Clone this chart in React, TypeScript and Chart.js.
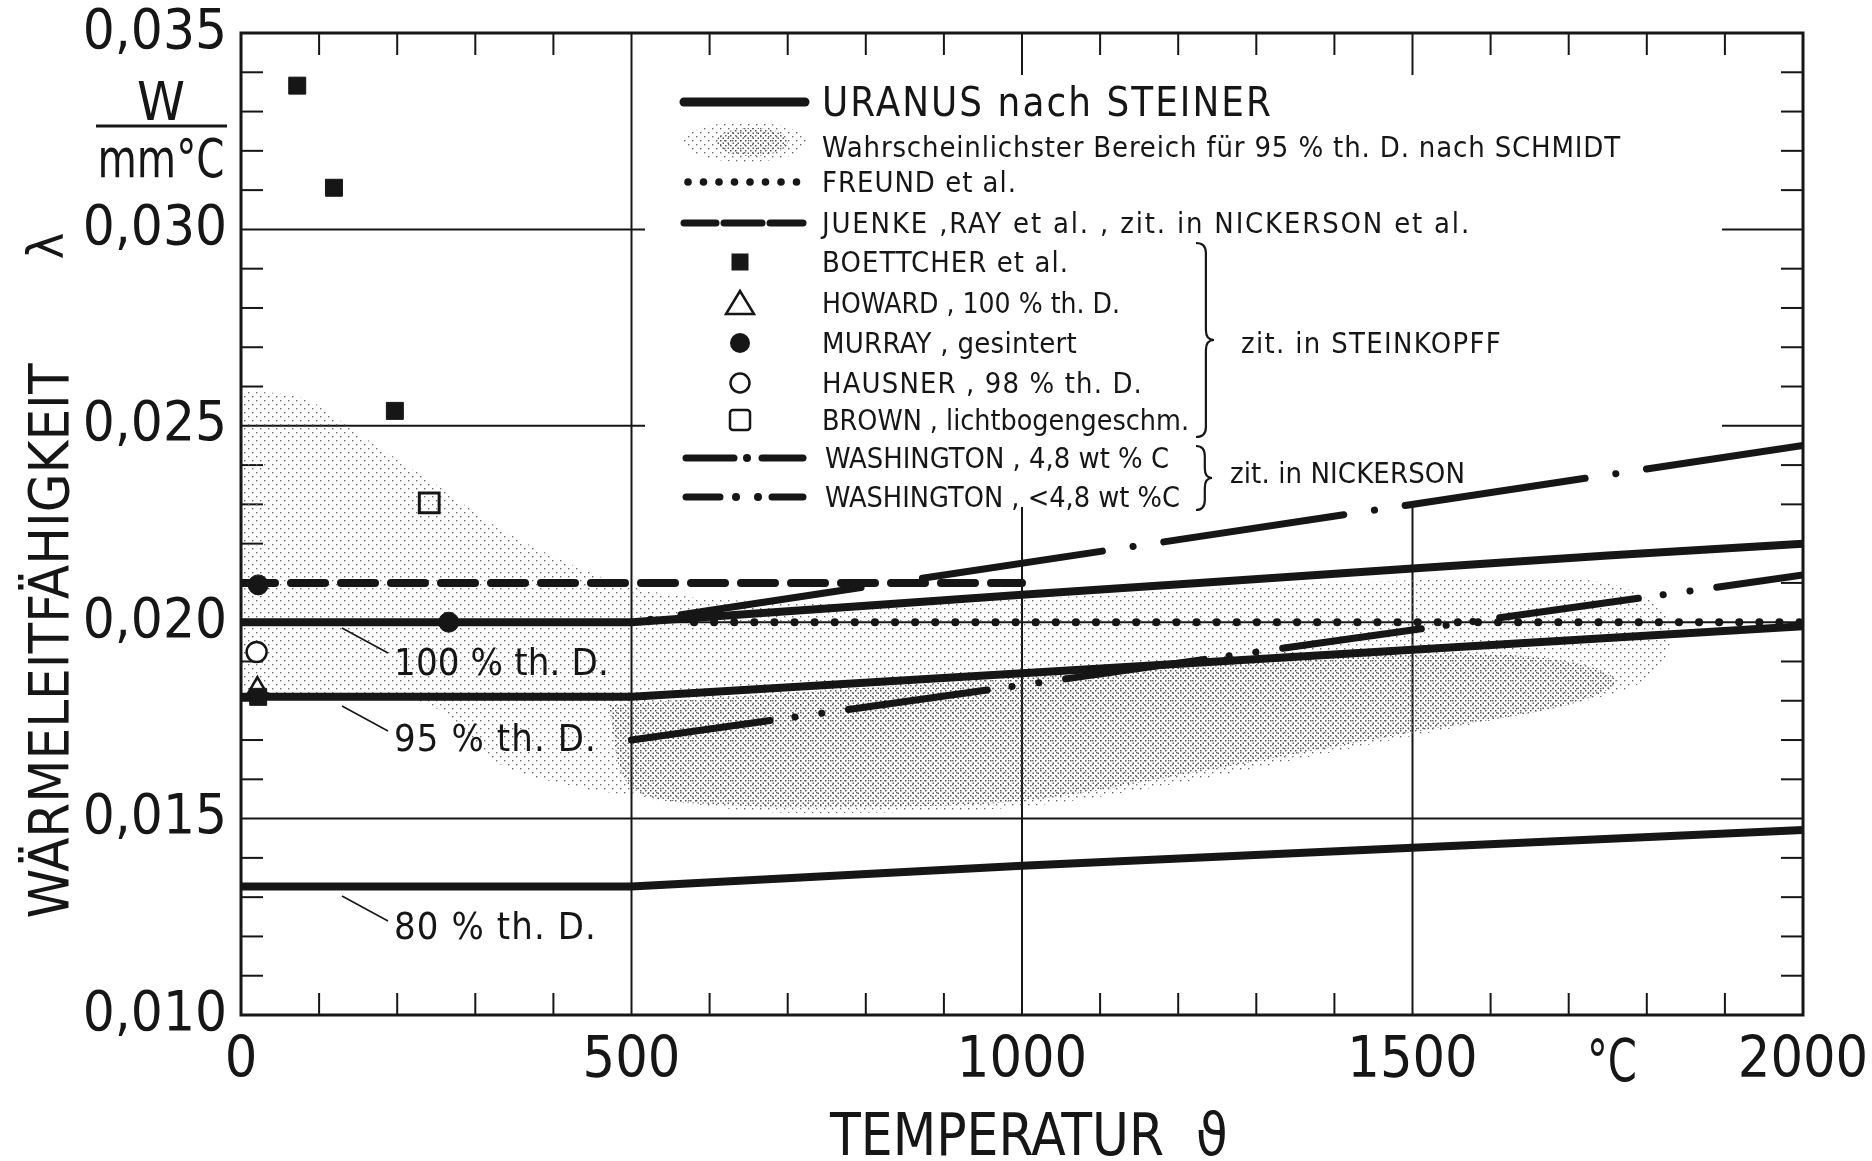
import React, { useEffect, useRef } from "react";
import { Chart, registerables } from "chart.js";

Chart.register(...registerables);

// ---------------- data ----------------
const xTickValues = [0, 500, 1000, 1500, 2000];
const yTickValues = [0.01, 0.015, 0.02, 0.025, 0.03, 0.035];

const uranus100T = [0, 500, 750, 1000, 1250, 1500, 1750, 2000];
const uranus100L = [0.02, 0.02, 0.02035, 0.0207, 0.02103, 0.02137, 0.0217, 0.022];
const uranus95T = [0, 500, 1000, 1500, 2000];
const uranus95L = [0.0181, 0.0181, 0.0187, 0.0193, 0.0199];
const uranus80T = [0, 500, 1000, 1500, 2000];
const uranus80L = [0.01327, 0.01327, 0.0138, 0.01426, 0.01471];

const freundT = [580, 2000];
const freundL = [0.02, 0.02];
const juenkeT = [0, 1000];
const juenkeL = [0.021, 0.021];
const wash48T = [500, 2000];
const wash48L = [0.02, 0.0245];
const washLt48T = [500, 2000];
const washLt48L = [0.017, 0.0212];

// outline of the SCHMIDT band (upper edge left->right, then lower edge right->left)
const schmidtT = [0, 80, 150, 250, 330, 420, 500, 600, 800, 1000, 1200, 1400, 1600, 1750, 1820, 1830, 1810, 1760,
  1650, 1500, 1400, 1200, 1000, 800, 650, 500, 430, 330, 250, 150, 0, 0];
const schmidtL = [0.0259, 0.0257, 0.0248, 0.0235, 0.0224, 0.0215, 0.0209, 0.0206, 0.0205, 0.0206, 0.0208, 0.021, 0.0211, 0.021, 0.0203, 0.0195, 0.0187, 0.0182,
  0.0177, 0.0171, 0.0167, 0.0159, 0.0153, 0.01515, 0.0152, 0.0156, 0.0158, 0.0164, 0.0178, 0.0182, 0.0184, 0.0259];
// denser core of the SCHMIDT band
const schmidtCoreT = [470, 700, 1000, 1300, 1550, 1700, 1760, 1700, 1500, 1200, 1000, 800, 620, 500, 470];
const schmidtCoreL = [0.0179, 0.0182, 0.0186, 0.019, 0.0192, 0.019, 0.0185, 0.0179, 0.0172, 0.0161, 0.01545, 0.0153, 0.01535, 0.0158, 0.0179];

const boettcherT = [72, 119, 197, 22];
const boettcherL = [0.03366, 0.03106, 0.02538, 0.0181];
const howardT = [21];
const howardL = [0.01835];
const murrayT = [22, 266];
const murrayL = [0.02095, 0.02];
const hausnerT = [20];
const hausnerL = [0.01924];
const brownT = [241];
const brownL = [0.02304];

const legendLabels = [
  "URANUS nach STEINER",
  "Wahrscheinlichster Bereich für 95 % th. D. nach SCHMIDT",
  "FREUND et al.",
  "JUENKE ,RAY et al. , zit. in NICKERSON et al.",
  "BOETTCHER et al.",
  "HOWARD , 100 % th. D.",
  "MURRAY , gesintert",
  "HAUSNER , 98 % th. D.",
  "BROWN , lichtbogengeschm.",
  "WASHINGTON , 4,8 wt % C",
  "WASHINGTON , <4,8 wt %C",
];
const densityLabels = ["100 % th. D.", "95 % th. D.", "80 % th. D."];

// ---------------- helpers ----------------
const INK = "#161616";
const FONT = '"Liberation Sans Narrow", "DejaVu Sans Condensed", "Liberation Sans", "DejaVu Sans", sans-serif';

const pts = (xs: number[], ys: number[]) => xs.map((x, i) => ({ x, y: ys[i] }));

function drawFit(ctx: CanvasRenderingContext2D, text: string, x: number, cy: number, size: number, width: number, align: "left" | "center" = "left") {
  ctx.save();
  ctx.font = `${size}px ${FONT}`;
  (ctx as any).letterSpacing = "0px";
  const w0 = ctx.measureText(text).width;
  let ls = 0;
  if (width > w0 && text.length > 1) ls = (width - w0) / (text.length - 1);
  (ctx as any).letterSpacing = `${ls}px`;
  let w1 = ctx.measureText(text).width;
  if ((ctx as any).letterSpacing === `${ls}px` && ls > 0) w1 -= ls;
  const sx = width / (w1 || 1);
  const left = align === "center" ? x - width / 2 : x;
  ctx.translate(left, cy + size * 0.36);
  ctx.scale(sx, 1);
  ctx.textAlign = "left";
  ctx.textBaseline = "alphabetic";
  ctx.fillStyle = INK;
  ctx.fillText(text, 0, 0);
  ctx.restore();
}

function seg(ctx: CanvasRenderingContext2D, x1: number, y1: number, x2: number, y2: number) {
  ctx.beginPath();
  ctx.moveTo(x1, y1);
  ctx.lineTo(x2, y2);
  ctx.stroke();
}

function brace(ctx: CanvasRenderingContext2D, x: number, y1: number, y2: number, w: number) {
  const mid = (y1 + y2) / 2;
  const r = Math.min(10, (y2 - y1) / 6);
  ctx.beginPath();
  ctx.moveTo(x, y1);
  ctx.quadraticCurveTo(x + w * 0.55, y1, x + w * 0.55, y1 + r);
  ctx.lineTo(x + w * 0.55, mid - r);
  ctx.quadraticCurveTo(x + w * 0.55, mid, x + w, mid);
  ctx.quadraticCurveTo(x + w * 0.55, mid, x + w * 0.55, mid + r);
  ctx.lineTo(x + w * 0.55, y2 - r);
  ctx.quadraticCurveTo(x + w * 0.55, y2, x, y2);
  ctx.stroke();
}

function makePattern(ctx: CanvasRenderingContext2D, tile: number, dot: number, color: string) {
  const pc = document.createElement("canvas");
  pc.width = tile;
  pc.height = tile;
  const pg = pc.getContext("2d")!;
  pg.fillStyle = color;
  pg.fillRect(0, 0, dot, dot);
  pg.fillRect(tile / 2, tile / 2, dot, dot);
  return ctx.createPattern(pc, "repeat")!;
}

export default function App() {
  const ref = useRef<HTMLCanvasElement>(null);

  useEffect(() => {
    const canvas = ref.current!;
    const c2d = canvas.getContext("2d")!;
    const lightPattern = makePattern(c2d, 8, 1.4, "#6a6a6a");
    const densePattern = makePattern(c2d, 5, 1.5, "#555");

    const decor = {
      id: "decor",
      beforeDatasetsDraw(chart: any) {
        const { ctx, chartArea: a, scales } = chart;
        const x = scales.x, y = scales.y;
        ctx.save();
        ctx.strokeStyle = INK;
        ctx.lineWidth = 2;
        for (const v of [500, 1000, 1500]) {
          const px = x.getPixelForValue(v);
          seg(ctx, px, a.top, px, a.bottom);
        }
        for (const v of [0.015, 0.02, 0.025, 0.03]) {
          const py = y.getPixelForValue(v);
          seg(ctx, a.left, py, a.right, py);
        }
        for (let v = 100; v < 2000; v += 100) {
          if (v % 500 === 0) continue;
          const px = x.getPixelForValue(v);
          seg(ctx, px, a.top, px, a.top + 22);
          seg(ctx, px, a.bottom, px, a.bottom - 22);
        }
        for (let k = 11; k < 35; k++) {
          if (k % 5 === 0) continue;
          const py = y.getPixelForValue(k / 1000);
          seg(ctx, a.left, py, a.left + 22, py);
          seg(ctx, a.right, py, a.right - 22, py);
        }
        // legend panel
        ctx.fillStyle = "#fff";
        ctx.fillRect(645, 75, 1722 - 645, 507 - 75);
        ctx.restore();
      },
      afterDatasetsDraw(chart: any) {
        const { ctx, chartArea: a } = chart;
        ctx.save();
        ctx.strokeStyle = INK;
        ctx.lineWidth = 3;
        ctx.strokeRect(a.left, a.top, a.right - a.left, a.bottom - a.top);
        ctx.restore();
      },
      afterDraw(chart: any) {
        const { ctx } = chart;
        ctx.save();
        ctx.strokeStyle = INK;
        ctx.fillStyle = INK;

        // y axis title
        ctx.save();
        ctx.translate(48, 641);
        ctx.rotate(-Math.PI / 2);
        drawFit(ctx, "WÄRMELEITFÄHIGKEIT", 0, 0, 56, 555, "center");
        ctx.restore();
        ctx.save();
        ctx.translate(50, 246);
        ctx.rotate(-Math.PI / 2);
        ctx.font = `50px ${FONT}`;
        ctx.textAlign = "center";
        ctx.textBaseline = "middle";
        ctx.fillText("λ", 0, 0);
        ctx.restore();

        // unit fraction
        ctx.font = `54px ${FONT}`;
        ctx.textAlign = "center";
        ctx.textBaseline = "alphabetic";
        ctx.fillText("W", 161, 120);
        ctx.lineWidth = 3;
        seg(ctx, 96, 126, 227, 126);
        drawFit(ctx, "mm°C", 161, 158, 54, 127, "center");

        // x axis title and unit
        drawFit(ctx, "TEMPERATUR", 830, 1134, 58, 334, "left");
        ctx.font = `58px ${FONT}`;
        ctx.textAlign = "center";
        ctx.fillText("ϑ", 1212, 1155);
        drawFit(ctx, "°C", 1612, 1060, 58, 50, "center");

        // density labels + leaders
        ctx.lineWidth = 1.5;
        const dl = [[661, 628, 215], [737, 706, 203], [925, 896, 203]];
        dl.forEach(([cy, ly, w], i) => {
          drawFit(ctx, densityLabels[i], 394, cy, 38, w, "left");
          seg(ctx, 342, ly, 388, ly + 25);
        });

        // legend
        const rows = [102, 147, 182, 223, 262, 303, 343, 383, 420, 458, 497];
        const widths = [451, 799, 195, 649, 247, 298, 255, 321, 367, 344, 355];
        rows.forEach((cy, i) => {
          drawFit(ctx, legendLabels[i], i >= 9 ? 825 : 822, cy, i === 0 ? 40 : 29, widths[i], "left");
        });
        const L0 = 684, L1 = 805, MX = 740;
        ctx.lineCap = "round";
        ctx.lineWidth = 9;
        seg(ctx, L0, rows[0], L1, rows[0]);
        // stipple blob
        ctx.save();
        ctx.beginPath();
        ctx.ellipse(745, 142, 62, 20, 0, 0, Math.PI * 2);
        ctx.fillStyle = lightPattern;
        ctx.fill();
        ctx.beginPath();
        ctx.ellipse(752, 142, 36, 14, 0, 0, Math.PI * 2);
        ctx.fillStyle = densePattern;
        ctx.fill();
        ctx.restore();
        // dots
        for (let k = 0; k < 8; k++) {
          ctx.beginPath();
          ctx.arc(688 + k * 15.5, rows[2], 3.8, 0, Math.PI * 2);
          ctx.fill();
        }
        ctx.lineWidth = 7;
        [[684, 716], [724, 762], [770, 803]].forEach(([a, b]) => seg(ctx, a, rows[3], b, rows[3]));
        // markers
        ctx.fillRect(MX - 8.5, rows[4] - 8.5, 17, 17);
        ctx.lineWidth = 2.5;
        ctx.beginPath();
        ctx.moveTo(MX, rows[5] - 12);
        ctx.lineTo(MX + 14, rows[5] + 11);
        ctx.lineTo(MX - 14, rows[5] + 11);
        ctx.closePath();
        ctx.stroke();
        ctx.beginPath();
        ctx.arc(MX, rows[6], 10, 0, Math.PI * 2);
        ctx.fill();
        ctx.beginPath();
        ctx.arc(MX, rows[7], 9.5, 0, Math.PI * 2);
        ctx.stroke();
        ctx.beginPath();
        (ctx as any).roundRect ? (ctx as any).roundRect(MX - 10, rows[8] - 10, 20, 20, 3) : ctx.rect(MX - 10, rows[8] - 10, 20, 20);
        ctx.stroke();
        ctx.lineWidth = 7;
        seg(ctx, 686, rows[9], 734, rows[9]);
        ctx.beginPath(); ctx.arc(747, rows[9], 4, 0, Math.PI * 2); ctx.fill();
        seg(ctx, 762, rows[9], 803, rows[9]);
        seg(ctx, 686, rows[10], 720, rows[10]);
        ctx.beginPath(); ctx.arc(736, rows[10], 4, 0, Math.PI * 2); ctx.fill();
        ctx.beginPath(); ctx.arc(758, rows[10], 4, 0, Math.PI * 2); ctx.fill();
        seg(ctx, 772, rows[10], 803, rows[10]);
        // braces
        ctx.lineCap = "butt";
        ctx.lineWidth = 2.2;
        brace(ctx, 1196, 243, 437, 18);
        brace(ctx, 1196, 446, 510, 16);
        drawFit(ctx, "zit. in STEINKOPFF", 1241, 343, 29, 261, "left");
        drawFit(ctx, "zit. in NICKERSON", 1230, 473, 29, 235, "left");
        ctx.restore();
      },
    };

    const line = (data: any, extra: any = {}) => ({
      type: "line",
      data,
      borderColor: INK,
      backgroundColor: INK,
      borderWidth: 8,
      pointRadius: 0,
      fill: false,
      tension: 0,
      borderCapStyle: "butt",
      clip: 0,
      order: 1,
      ...extra,
    });
    const marker = (data: any, extra: any = {}) => ({
      type: "line",
      data,
      showLine: false,
      borderColor: INK,
      backgroundColor: INK,
      pointBorderColor: INK,
      pointBackgroundColor: INK,
      pointBorderWidth: 1,
      order: 0,
      ...extra,
    });

    const chart = new Chart(canvas, {
      type: "line",
      data: {
        datasets: [
          marker(pts(boettcherT, boettcherL), { label: legendLabels[4], pointStyle: "rect", pointRadius: 12 }),
          marker(pts(howardT, howardL), { label: legendLabels[5], pointStyle: "triangle", pointRadius: 10, pointBackgroundColor: "rgba(255,255,255,0)", pointBorderWidth: 2.5 }),
          marker(pts(murrayT, murrayL), { label: legendLabels[6], pointStyle: "circle", pointRadius: 10 }),
          marker(pts(hausnerT, hausnerL), { label: legendLabels[7], pointStyle: "circle", pointRadius: 10, pointBackgroundColor: "#fff", pointBorderWidth: 2.5 }),
          marker(pts(brownT, brownL), { label: legendLabels[8], pointStyle: "rect", pointRadius: 14, pointBackgroundColor: "rgba(255,255,255,0)", pointBorderWidth: 3 }),
          line(pts(uranus100T, uranus100L), { label: "URANUS 100 %" }),
          line(pts(uranus95T, uranus95L), { label: "URANUS 95 %" }),
          line(pts(uranus80T, uranus80L), { label: "URANUS 80 %" }),
          line(pts(freundT, freundL), { label: legendLabels[2], borderWidth: 8, borderDash: [0.1, 20], borderCapStyle: "round" }),
          line(pts(juenkeT, juenkeL), { label: legendLabels[3], borderWidth: 8, borderDash: [34, 16], borderCapStyle: "round" }),
          line(pts(wash48T, wash48L), { label: legendLabels[9], borderWidth: 7, borderDash: [182, 31, 0.1, 31], borderDashOffset: 194, borderCapStyle: "round" }),
          line(pts(washLt48T, washLt48L), { label: legendLabels[10], borderWidth: 7, borderDash: [140, 25, 0.1, 27, 0.1, 27], borderCapStyle: "round" }),
          line(pts(schmidtCoreT, schmidtCoreL), { label: legendLabels[1] + " (Kern)", borderWidth: 0, borderColor: "rgba(0,0,0,0)", backgroundColor: densePattern, fill: "shape", tension: 0.35, order: 2 }),
          line(pts(schmidtT, schmidtL), { label: legendLabels[1], borderWidth: 0, borderColor: "rgba(0,0,0,0)", backgroundColor: lightPattern, fill: "shape", tension: 0.35, order: 3 }),
        ] as any,
      },
      options: {
        responsive: false,
        maintainAspectRatio: false,
        animation: false,
        events: [],
        layout: { padding: { top: 33, right: 69, left: 0, bottom: 0 } },
        plugins: { legend: { display: false }, tooltip: { enabled: false }, title: { display: false } },
        scales: {
          x: {
            type: "linear",
            min: 0,
            max: 2000,
            grid: { display: false, drawTicks: false },
            border: { display: false },
            afterBuildTicks: (s: any) => { s.ticks = xTickValues.map((v) => ({ value: v })); },
            afterFit: (s: any) => { s.height = 146; s.paddingLeft = 0; s.paddingRight = 0; },
            ticks: { autoSkip: false, maxRotation: 0, padding: 13, color: INK, font: { family: FONT, size: 57 }, callback: (v: any) => String(v) },
          },
          y: {
            type: "linear",
            min: 0.01,
            max: 0.035,
            grid: { display: false, drawTicks: false },
            border: { display: false },
            afterBuildTicks: (s: any) => { s.ticks = yTickValues.map((v) => ({ value: v })); },
            afterFit: (s: any) => { s.width = 241; s.paddingTop = 0; s.paddingBottom = 0; },
            ticks: { autoSkip: false, padding: 14, color: INK, font: { family: FONT, size: 56 }, callback: (v: any) => Number(v).toFixed(3).replace(".", ",") },
          },
        },
      } as any,
      plugins: [decor],
    });
    return () => chart.destroy();
  }, []);

  return (
    <div style={{ position: "fixed", left: 0, top: 0, width: 1872, height: 1161, background: "#fff" }}>
      <canvas ref={ref} width={1872} height={1161} style={{ width: 1872, height: 1161, display: "block" }} />
    </div>
  );
}
